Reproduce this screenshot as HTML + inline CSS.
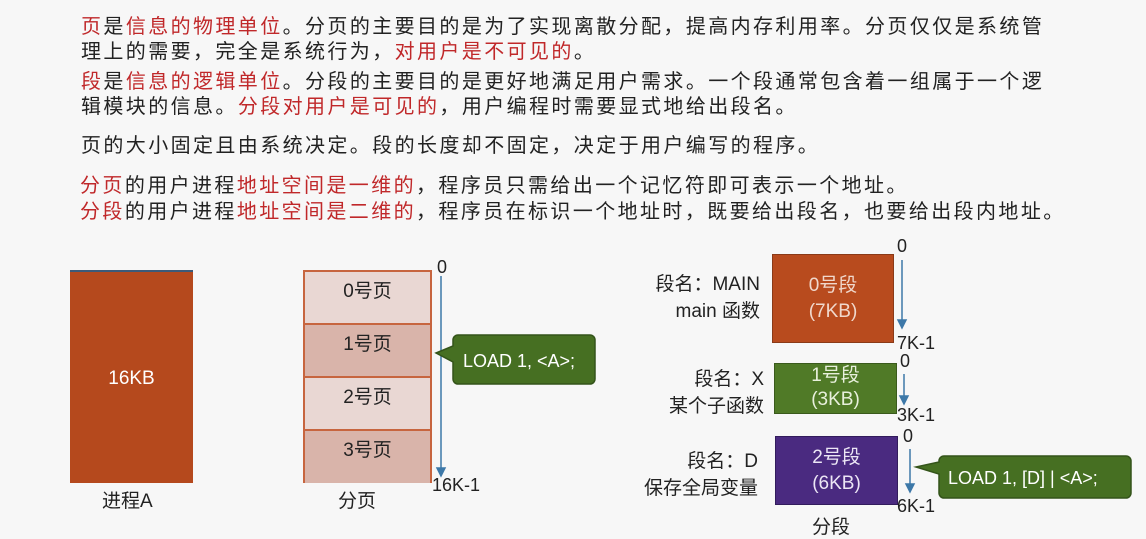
<!DOCTYPE html>
<html><head><meta charset="utf-8"><style>
body{margin:0;width:1146px;height:539px;background:#f7f7f7;position:relative;overflow:hidden;font-family:"Liberation Sans","Noto Sans CJK SC",sans-serif;color:#222}
.l{position:absolute;left:81px;font-size:20px;letter-spacing:2.4px;white-space:nowrap;line-height:24px}
.r{color:#c0282a}
.a{position:absolute;white-space:nowrap}
.box{position:absolute;color:#fff;text-align:center;box-sizing:border-box}
</style></head><body>
<div class="l" style="top:15px"><span class="r">页</span>是<span class="r">信息的物理单位</span>。分页的主要目的是为了实现离散分配，提高内存利用率。分页仅仅是系统管</div>
<div class="l" style="top:40px">理上的需要，完全是系统行为，<span class="r">对用户是不可见的</span>。</div>
<div class="l" style="top:70px"><span class="r">段</span>是<span class="r">信息的逻辑单位</span>。分段的主要目的是更好地满足用户需求。一个段通常包含着一组属于一个逻</div>
<div class="l" style="top:95px">辑模块的信息。<span class="r">分段对用户是可见的</span>，用户编程时需要显式地给出段名。</div>
<div class="l" style="top:134px">页的大小固定且由系统决定。段的长度却不固定，决定于用户编写的程序。</div>
<div class="l" style="top:174px;left:80px"><span class="r">分页</span>的用户进程<span class="r">地址空间是一维的</span>，程序员只需给出一个记忆符即可表示一个地址。</div>
<div class="l" style="top:200px;left:80px"><span class="r">分段</span>的用户进程<span class="r">地址空间是二维的</span>，程序员在标识一个地址时，既要给出段名，也要给出段内地址。</div>

<div class="box" style="left:70px;top:270px;width:123px;height:213px;background:#b5491d;border-top:2px solid #3c5a78;line-height:213px;font-size:19px">16KB</div>
<div class="a" style="left:102px;top:486px;font-size:19px">进程A</div>

<div style="position:absolute;left:303px;top:270px;width:129px;height:213px;border:2px solid #c7653f;box-sizing:border-box">
<div style="height:53px;background:#e9d7d3;border-bottom:2px solid #c7653f;box-sizing:border-box;text-align:center;font-size:19px;padding-top:4px">0号页</div>
<div style="height:53px;background:#d9b4aa;border-bottom:2px solid #c7653f;box-sizing:border-box;text-align:center;font-size:19px;padding-top:4px">1号页</div>
<div style="height:53px;background:#e9d7d3;border-bottom:2px solid #c7653f;box-sizing:border-box;text-align:center;font-size:19px;padding-top:4px">2号页</div>
<div style="height:52px;background:#d9b4aa;box-sizing:border-box;text-align:center;font-size:19px;padding-top:4px">3号页</div>
</div>
<div class="a" style="left:338px;top:486px;font-size:19px">分页</div>
<div class="a" style="left:437px;top:257px;font-size:18px">0</div>
<div class="a" style="left:432px;top:475px;font-size:18px">16K-1</div>

<div class="box" style="left:772px;top:254px;width:122px;height:89px;background:#b84b1e;border:1px solid #8a3a18;font-size:19px;padding-top:18px;line-height:26px;color:#f0d8cc">0号段<br>(7KB)</div>
<div class="box" style="left:774px;top:363px;width:123px;height:51px;background:#507a27;border:1px solid #3a5a1c;font-size:19px;line-height:24px;color:#e8f0dc">1号段<br>(3KB)</div>
<div class="box" style="left:775px;top:436px;width:123px;height:69px;background:#4a2a80;border:1px solid #321c5c;font-size:19px;padding-top:8px;line-height:26px;color:#ece6f5">2号段<br>(6KB)</div>
<div class="a" style="left:640px;top:271px;font-size:19px;text-align:right;width:120px;line-height:27px">段名：MAIN<br>main 函数</div>
<div class="a" style="left:640px;top:366px;font-size:19px;text-align:right;width:124px;line-height:27px">段名：X<br>某个子函数</div>
<div class="a" style="left:620px;top:448px;font-size:19px;text-align:right;width:138px;line-height:27px">段名：D<br>保存全局变量</div>
<div class="a" style="left:812px;top:512px;font-size:19px">分段</div>
<div class="a" style="left:897px;top:236px;font-size:18px">0</div>
<div class="a" style="left:897px;top:333px;font-size:18px">7K-1</div>
<div class="a" style="left:900px;top:351px;font-size:18px">0</div>
<div class="a" style="left:897px;top:405px;font-size:18px">3K-1</div>
<div class="a" style="left:903px;top:426px;font-size:18px">0</div>
<div class="a" style="left:897px;top:496px;font-size:18px">6K-1</div>

<svg width="1146" height="539" style="position:absolute;left:0;top:0">
<g stroke="#3d78a8" stroke-width="1.5" fill="#3d78a8">
<line x1="441" y1="276" x2="441" y2="470"/><polygon points="437,468 445,468 441,476"/>
<line x1="902" y1="260" x2="902" y2="322"/><polygon points="898,320 906,320 902,328"/>
<line x1="904" y1="374" x2="904" y2="398"/><polygon points="900,396 908,396 904,404"/>
<line x1="910" y1="449" x2="910" y2="486"/><polygon points="906,484 914,484 910,492"/>
</g>
<path d="M458,335 H590 a5,5 0 0 1 5,5 V379 a5,5 0 0 1 -5,5 H458 a5,5 0 0 1 -5,-5 V362 L436,353 L453,346 V340 a5,5 0 0 1 5,-5Z" fill="#466f22" stroke="#34541a" stroke-width="1.5"/>
<text x="463" y="367" fill="#fff" font-size="18" font-family="Liberation Sans,sans-serif">LOAD 1, &lt;A&gt;;</text>
<path d="M944,456 H1126 a5,5 0 0 1 5,5 V493 a5,5 0 0 1 -5,5 H944 a5,5 0 0 1 -5,-5 V474 L916,467 L939,462 V461 a5,5 0 0 1 5,-5Z" fill="#466f22" stroke="#34541a" stroke-width="1.5"/>
<text x="948" y="484" fill="#fff" font-size="18" font-family="Liberation Sans,sans-serif">LOAD 1, [D] | &lt;A&gt;;</text>
</svg>
</body></html>
